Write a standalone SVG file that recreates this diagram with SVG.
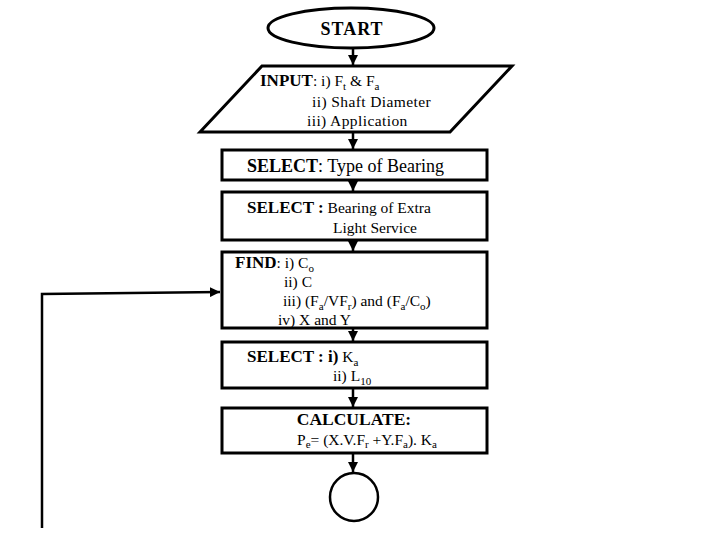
<svg xmlns="http://www.w3.org/2000/svg" width="720" height="540" viewBox="0 0 720 540">
<style>
.s{fill:#fff;stroke:#000;stroke-width:3}
.t{font-family:"Liberation Serif","Times New Roman",serif;font-size:15.5px;fill:#000}
.b{font-weight:bold;font-size:17px}
.c{fill:none;stroke:#000;stroke-width:2.5}
.u{font-size:11px}
</style>
<defs>
<marker id="ah" viewBox="0 0 10 10" refX="10" refY="5" markerWidth="4" markerHeight="4" orient="auto" markerUnits="strokeWidth">
<path d="M0,0L10,5L0,10z" fill="#000"/>
</marker>
</defs>
<rect width="720" height="540" fill="#fff"/>
<g id="connectors">
<line class="c" x1="353" y1="48" x2="353" y2="65" marker-end="url(#ah)"/>
<line class="c" x1="353" y1="132" x2="353" y2="149" marker-end="url(#ah)"/>
<line class="c" x1="353" y1="181" x2="353" y2="191" marker-end="url(#ah)"/>
<line class="c" x1="353" y1="241" x2="353" y2="251" marker-end="url(#ah)"/>
<line class="c" x1="353" y1="329" x2="353" y2="341" marker-end="url(#ah)"/>
<line class="c" x1="353" y1="389" x2="353" y2="407" marker-end="url(#ah)"/>
<line class="c" x1="353" y1="454" x2="353" y2="472" marker-end="url(#ah)"/>
<polyline class="c" points="42,528 42,294 220,292" stroke-width="3" marker-end="url(#ah)"/>
</g>
<g id="start">
<ellipse class="s" cx="351" cy="28" rx="83" ry="20" stroke-width="2.5"/>
<text class="t" x="352" y="35" text-anchor="middle" style="font-size:18px;font-weight:bold;letter-spacing:1px">START</text>
</g>
<g id="input">
<polygon class="s" points="262,66 512,66 450,132 200,132"/>
<text class="t" x="260" y="86"><tspan class="b">INPUT</tspan>: i) F<tspan class="u" dy="4">t</tspan><tspan dy="-4"> &amp; F</tspan><tspan class="u" dy="4">a</tspan></text>
<text class="t" x="312" y="107" style="letter-spacing:0.4px">ii) Shaft Diameter</text>
<text class="t" x="307" y="126" style="letter-spacing:0.4px">iii) Application</text>
</g>
<g id="select-type">
<rect class="s" x="222" y="150" width="265" height="30"/>
<text class="t" x="247" y="172" style="font-size:18px"><tspan font-weight="bold">SELECT</tspan>: Type of Bearing</text>
</g>
<g id="select-bearing">
<rect class="s" x="222" y="192" width="265" height="48"/>
<text class="t" x="247" y="213"><tspan class="b">SELECT :</tspan> Bearing of Extra</text>
<text class="t" x="333" y="233">Light Service</text>
</g>
<g id="find">
<rect class="s" x="222" y="252" width="265" height="76"/>
<text class="t" x="235" y="268"><tspan class="b">FIND</tspan>: i)  C<tspan class="u" dy="4">o</tspan></text>
<text class="t" x="284" y="287">ii) C</text>
<text class="t" x="283" y="306">iii)  (F<tspan class="u" dy="4">a</tspan><tspan dy="-4">/VF</tspan><tspan class="u" dy="4">r</tspan><tspan dy="-4">) and (F</tspan><tspan class="u" dy="4">a</tspan><tspan dy="-4">/C</tspan><tspan class="u" dy="4">o</tspan><tspan dy="-4">)</tspan></text>
<text class="t" x="278" y="325">iv)  X and Y</text>
</g>
<g id="select-ka">
<rect class="s" x="222" y="342" width="265" height="46"/>
<text class="t" x="247" y="362"><tspan class="b">SELECT : i)</tspan> K<tspan class="u" dy="4">a</tspan></text>
<text class="t" x="333" y="381">ii) L<tspan class="u" dy="4">10</tspan></text>
</g>
<g id="calculate">
<rect class="s" x="222" y="408" width="265" height="45"/>
<text class="t b" x="354" y="425" text-anchor="middle" style="font-size:17.5px">CALCULATE:</text>
<text class="t" x="297" y="445">P<tspan class="u" dy="3">e</tspan><tspan dy="-3">= (X.V.F</tspan><tspan class="u" dy="3">r</tspan><tspan dy="-3"> +Y.F</tspan><tspan class="u" dy="3">a</tspan><tspan dy="-3">). K</tspan><tspan class="u" dy="3">a</tspan></text>
</g>
<g id="end">
<circle cx="354" cy="497" r="24" fill="#fff" stroke="#000" stroke-width="2.5"/>
</g>
</svg>
